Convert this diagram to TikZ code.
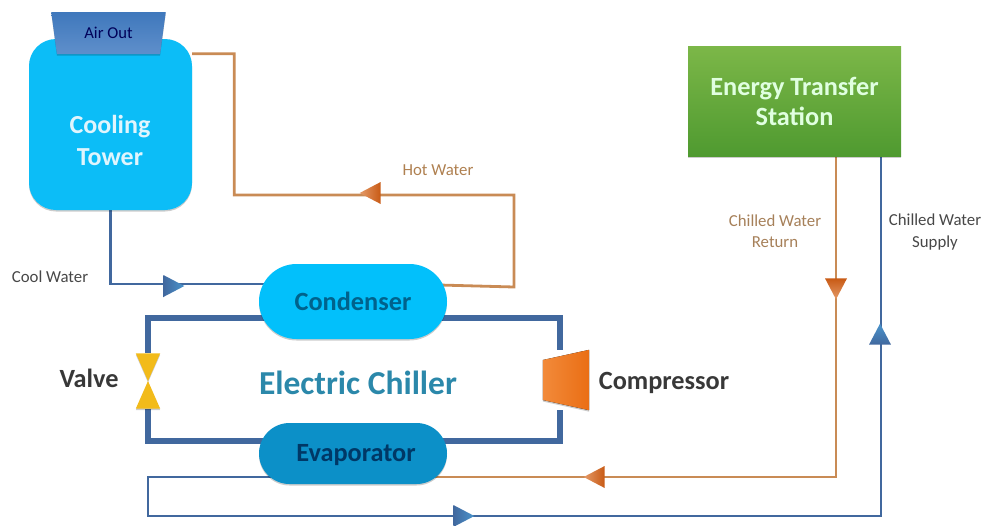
\documentclass[tikz,border=0pt]{standalone}
\usepackage{fontspec}
\setmainfont{Carlito}
\usepackage{tikz}
\usetikzlibrary{
  backgrounds,
  shadows,
  shapes.geometric,
  shapes.misc}

\definecolor{pipeblue}{HTML}{41689E}
\definecolor{pipeorange}{HTML}{C98B55}
\definecolor{towerblue}{HTML}{0CBDF7}
\definecolor{condblue}{HTML}{02C0FB}
\definecolor{evapblue}{HTML}{0C90C8}
\definecolor{titleteal}{HTML}{2B88AA}
\definecolor{stationtop}{HTML}{7CB748}
\definecolor{stationlow}{HTML}{4F9A30}
\definecolor{airtop}{HTML}{3F78BC}
\definecolor{airlow}{HTML}{5F8FCB}
\definecolor{tipdark}{HTML}{C85A14}
\definecolor{tiplight}{HTML}{E49A68}
\definecolor{tipblue}{HTML}{4A94CC}
\definecolor{valvegold}{HTML}{F2BB1A}
\definecolor{compleft}{HTML}{F28A3A}
\definecolor{compright}{HTML}{EA6E14}

\tikzset{
  softshadow/.style={drop shadow={shadow xshift=0pt,shadow yshift=-1.5pt,opacity=0.2,fill=black}},
  waterpipe/.style={line width=2.8pt,pipeblue},
  hotpipe/.style={line width=2.8pt,pipeorange},
  chillerpipe/.style={line width=5.5pt,pipeblue},
  unitbox/.style={rounded rectangle,minimum width=188pt,inner sep=0pt,softshadow},
  unittext/.style={font=\fontsize{26.3}{28}\selectfont\bfseries},
  smalltext/.style={align=center,font=\fontsize{16.8}{21.5}\selectfont},
  sidetext/.style={font=\fontsize{26.3}{28}\selectfont\bfseries,text=black!78},
  tipshape/.style={isosceles triangle,isosceles triangle stretches,minimum width=22pt,minimum height=21pt,inner sep=0pt}
}

\begin{document}
\begin{tikzpicture}[x=1pt,y=-1pt]
  \useasboundingbox (0,0) rectangle (985,525);

  % units
  \node (tower) [rectangle,rounded corners=27pt,minimum width=163pt,minimum height=171pt,fill=towerblue,softshadow] at (110.5,124.5) {};
  \node (airout) [trapezium,trapezium angle=-77,trapezium stretches=true,minimum width=115pt,minimum height=42pt,inner sep=0pt,top color=airtop,bottom color=airlow,softshadow,text=blue!35!black,font=\fontsize{16.6}{18}\selectfont] at (108.5,33) {Air Out};
  \node (station) [rectangle,minimum width=213pt,minimum height=110pt,top color=stationtop,bottom color=stationlow,softshadow,align=center,text=green!12,font=\fontsize{26.3}{30}\selectfont\bfseries] at (794.5,101) {Energy Transfer\\Station};
  \node (condenser) [unitbox,minimum height=75pt,fill=condblue] at (353,301.5) {};
  \node (evaporator) [unitbox,minimum height=61pt,fill=evapblue] at (353,453.5) {};
  \node (valve) [minimum width=24pt,minimum height=55pt,inner sep=0pt] at (148,381) {};
  \node (compressor) [minimum width=46pt,minimum height=60pt,inner sep=0pt] at (566,380) {};
  \fill[valvegold,softshadow] (valve.north west) -- (valve.north east) -- (valve.south west) -- (valve.south east) -- cycle;
  \fill[left color=compleft,right color=compright,softshadow] ([yshift=20pt]compressor.west) -- (compressor.north east) -- (compressor.south east) -- ([yshift=-20pt]compressor.west) -- cycle;

  % texts
  \node (towertext) [align=center,text=cyan!12,font=\fontsize{26}{32}\selectfont\bfseries] at (110,140) {Cooling\\Tower};
  \node (condtext) [unittext,text=blue!30!cyan!55!black] at (353,301) {Condenser};
  \node (evaptext) [unittext,text=blue!45!cyan!40!black] at (356,455) {Evaporator};
  \node (chiller) [font=\fontsize{33.5}{36}\selectfont\bfseries,text=titleteal] at (358,383) {Electric Chiller};
  \node (valvetext) [sidetext] at (89,378) {Valve};
  \node (comptext) [sidetext] at (664,383) {Compressor};
  \node (cooltext) [smalltext,text=black!72] at (50,277) {Cool Water};
  \node (hottext) [smalltext,text=brown!75!gray] at (438,170) {Hot Water};
  \node (returntext) [smalltext,text=brown!60!gray] at (775,231) {Chilled Water\\Return};
  \node (supplytext) [smalltext,text=black!72] at (935,232) {Chilled Water\\Supply};

  % pipes go under the units
  \begin{scope}[on background layer]
    \coordinate (hotcorner) at (514,195);
    \coordinate (lowcorner) at (148,516);
    \draw[hotpipe] ([yshift=-15pt]tower.north east) -- ++(42,0) |- (hotcorner) -- (514,287) -- ([xshift=-8pt,yshift=16.5pt]condenser.east);
    \draw[waterpipe] (tower.south) |- ([xshift=8pt,yshift=17.5pt]condenser.west);
    \draw[chillerpipe] ([xshift=8pt,yshift=-16.5pt]condenser.west) -| (valve.north);
    \draw[chillerpipe] (valve.south) |- ([xshift=8pt,yshift=12.5pt]evaporator.west);
    \draw[chillerpipe] ([xshift=-8pt,yshift=-16.5pt]condenser.east) -| ([xshift=-6pt]compressor.north);
    \draw[chillerpipe] ([xshift=-8pt,yshift=12.5pt]evaporator.east) -| ([xshift=-6pt]compressor.south);
    \draw[waterpipe] ([xshift=15pt,yshift=-23.5pt]evaporator.west) -| (lowcorner) -| ([xshift=86.5pt]station.south);
    \draw[hotpipe] ([xshift=-15pt,yshift=-23.5pt]evaporator.east) -| ([xshift=41.5pt]station.south);
  \end{scope}

  % flow tips
  \node (tipcool) [tipshape,left color=pipeblue,right color=tipblue] at (170,286) {};
  \node (tiplow) [tipshape,left color=pipeblue,right color=tipblue] at (460,516) {};
  \node (tipsupply) [tipshape,rotate=90,top color=tipblue,bottom color=pipeblue] at (880,338) {};
  \node (tiphot) [tipshape,rotate=180,left color=tiplight,right color=tipdark] at (374,193) {};
  \node (tipreturn) [tipshape,rotate=-90,top color=tipdark,bottom color=tiplight] at (836,285) {};
  \node (tipevap) [tipshape,rotate=180,left color=tiplight,right color=tipdark] at (598,477) {};
\end{tikzpicture}
\end{document}
